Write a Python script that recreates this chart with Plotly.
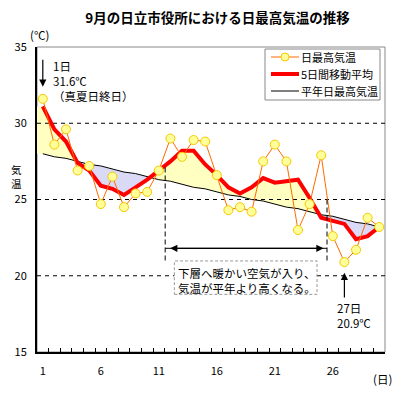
import plotly.graph_objects as go

# ---------------- data ----------------
days = list(range(1, 31))
daily_max = [31.6, 28.6, 29.6, 26.9, 27.2, 24.7, 26.5, 24.5, 25.4, 25.5,
             26.9, 29.0, 27.8, 28.9, 28.8, 26.6, 24.3, 24.5, 24.2, 27.5,
             28.6, 27.5, 23.0, 24.7, 27.9, 22.6, 20.9, 21.7, 23.8, 23.2]
moving_avg = [31.1, 29.6, 28.8, 27.4, 26.9, 25.9, 25.7, 25.3, 25.8, 26.3,
              26.9, 27.5, 28.2, 28.2, 27.3, 26.6, 25.8, 25.4, 25.8, 26.4,
              26.1, 26.2, 26.3, 25.1, 23.8, 23.6, 23.4, 22.4, 22.6, 23.2]
normal_max = [28.0, 27.8, 27.7, 27.5, 27.3, 27.2, 27.0, 26.8, 26.7, 26.5,
              26.3, 26.2, 26.0, 25.8, 25.7, 25.5, 25.3, 25.2, 25.0, 24.9,
              24.7, 24.5, 24.4, 24.2, 24.0, 23.9, 23.7, 23.5, 23.4, 23.2]
x_tick_vals = [1, 6, 11, 16, 21, 26]
x_tick_text = ["1", "6", "11", "16", "21", "26"]
y_tick_vals = [15, 20, 25, 30, 35]
grid_vals = [20, 25, 30]
series_names = ["日最高気温", "5日間移動平均", "平年日最高気温"]

FONT = "Noto Sans CJK JP"
C_DAILY = "#FF6A00"
C_MARK = "#FFFF99"
C_MARK_EDGE = "#F5C800"
C_AVG = "#FF0000"
C_NORM = "#000000"

# ---------------- fill between moving average and normal ----------------
fx = [0.5] + days
fa = [moving_avg[0]] + moving_avg
fb = [normal_max[0]] + normal_max
X, A, B = [], [], []
for i in range(len(fx)):
    X.append(fx[i]); A.append(fa[i]); B.append(fb[i])
    if i + 1 < len(fx):
        d0 = fa[i] - fb[i]
        d1 = fa[i + 1] - fb[i + 1]
        if d0 * d1 < 0:
            t = d0 / (d0 - d1)
            X.append(fx[i] + t * (fx[i + 1] - fx[i]))
            A.append(fa[i] + t * (fa[i + 1] - fa[i]))
            B.append(fb[i] + t * (fb[i + 1] - fb[i]))
upper = [max(a, b) for a, b in zip(A, B)]
lower = [min(a, b) for a, b in zip(A, B)]

fig = go.Figure()
common = dict(mode="lines", line=dict(width=0), showlegend=False, hoverinfo="skip")
fig.add_trace(go.Scatter(x=X, y=B, **common))
fig.add_trace(go.Scatter(x=X, y=upper, fill="tonexty", fillcolor="#FFFFC2", **common))
fig.add_trace(go.Scatter(x=X, y=B, **common))
fig.add_trace(go.Scatter(x=X, y=lower, fill="tonexty", fillcolor="#DADAF6", **common))

# dashed horizontal gridlines (drawn above fills)
for g in grid_vals:
    fig.add_trace(go.Scatter(x=[0.5, 30.5], y=[g, g], mode="lines",
                             line=dict(color="black", width=1, dash="4px,4px"),
                             showlegend=False, hoverinfo="skip"))

fig.add_trace(go.Scatter(x=days, y=normal_max, mode="lines", name=series_names[2],
                         line=dict(color=C_NORM, width=1), showlegend=False))
fig.add_trace(go.Scatter(x=days, y=moving_avg, mode="lines", name=series_names[1],
                         line=dict(color=C_AVG, width=4), showlegend=False))
fig.add_trace(go.Scatter(x=days, y=daily_max, mode="lines+markers", name=series_names[0],
                         line=dict(color=C_DAILY, width=1),
                         marker=dict(size=9, color=C_MARK,
                                     line=dict(color=C_MARK_EDGE, width=1)),
                         showlegend=False))

# ---------------- layout helpers ----------------
# the page puts the figure 8px from the top-left corner of the window
OFF = 8
W = H = 400 - OFF
L, R, T, Bm = 37 - OFF, 15, 47 - OFF, 48
PW = W - L - R
PH = H - T - Bm


def px(x):  # window pixel -> paper x
    return (x - OFF - L) / PW


def py(y):  # window pixel -> paper y
    return (H - Bm - (y - OFF)) / PH


shapes = [
    dict(type="rect", xref="paper", yref="paper", x0=0, x1=1, y0=0, y1=1,
         line=dict(color="#888888", width=1), layer="below"),
    # dashed verticals
    dict(type="line", xref="x", yref="y", x0=11.55, x1=11.55, y0=27.1, y1=20.95,
         line=dict(color="black", width=1, dash="5px,3px")),
    dict(type="line", xref="x", yref="y", x0=25.5, x1=25.5, y0=25.0, y1=20.9,
         line=dict(color="black", width=1, dash="5px,3px")),
    # horizontal arrow shaft
    dict(type="line", xref="x", yref="y", x0=11.55, x1=25.5, y0=21.8, y1=21.8,
         line=dict(color="black", width=1)),
    # dashed text box
    dict(type="rect", xref="x", yref="y", x0=12.34, x1=24.64, y0=18.78, y1=20.97,
         line=dict(color="#999999", width=1, dash="3px,2px"), fillcolor="white"),
]

# ---- legend (drawn by hand to match the compact box) ----
shapes.append(dict(type="rect", xref="paper", yref="paper", x0=px(265), x1=px(380),
                   y0=py(100), y1=py(49), line=dict(color="#888888", width=1),
                   fillcolor="white"))
leg_y = [57, 74, 91]
leg_styles = [dict(color=C_DAILY, width=1), dict(color=C_AVG, width=4),
              dict(color=C_NORM, width=1)]
for yy, st in zip(leg_y, leg_styles):
    shapes.append(dict(type="line", xref="paper", yref="paper", x0=px(271), x1=px(299),
                       y0=py(yy), y1=py(yy), line=st))
shapes.append(dict(type="circle", xref="paper", yref="paper", xsizemode="pixel",
                   ysizemode="pixel", xanchor=px(285), yanchor=py(leg_y[0]),
                   x0=-4, x1=4, y0=-4, y1=4, fillcolor=C_MARK,
                   line=dict(color=C_MARK_EDGE, width=1)))

ann = []
txt = dict(showarrow=False, font=dict(family=FONT, size=11.5, color="black"))
for yy, name in zip(leg_y, series_names):
    ann.append(dict(x=px(299), y=py(yy), xref="paper", yref="paper", xanchor="left",
                    yanchor="middle", text=name, showarrow=False,
                    font=dict(family=FONT, size=11, color="black")))

# day 1 arrow + text
ann.append(dict(x=1, y=32.4, ax=1, ay=34.26, xref="x", yref="y", axref="x", ayref="y",
                text="", showarrow=True, arrowhead=2, arrowsize=1.2, arrowwidth=1.2,
                arrowcolor="black"))
ann.append(dict(x=px(51), y=py(81), xref="paper", yref="paper", xanchor="left",
                yanchor="middle", align="left", text="1日<br>31.6℃<br>（真夏日終日）",
                **txt))
# double arrow
ann.append(dict(x=25.2, y=21.8, ax=11.85, ay=21.8, xref="x", yref="y", axref="x", ayref="y",
                text="", showarrow=True, arrowhead=2, startarrowhead=2, arrowside="end+start",
                arrowsize=1.2, startarrowsize=1.2, arrowwidth=1.2, arrowcolor="black"))
# box text
ann.append(dict(x=px(176), y=py(280.5), xref="paper", yref="paper", xanchor="left",
                yanchor="middle", align="left",
                text="下層へ暖かい空気が入り、<br>気温が平年より高くなる。", **txt))
# day 27 arrow + text
ann.append(dict(x=27, y=20.2, ax=27, ay=18.48, xref="x", yref="y", axref="x", ayref="y",
                text="", showarrow=True, arrowhead=2, arrowsize=1.2, arrowwidth=1.2,
                arrowcolor="black"))
ann.append(dict(x=px(335), y=py(315), xref="paper", yref="paper", xanchor="left",
                yanchor="middle", align="left", text="27日<br>20.9℃", **txt))
# axis unit labels
ann.append(dict(x=px(39), y=py(35), xref="paper", yref="paper", xanchor="center",
                yanchor="middle", text="(℃)", **txt))
ann.append(dict(x=px(382), y=py(379), xref="paper", yref="paper", xanchor="center",
                yanchor="middle", text="(日)", **txt))
ann.append(dict(x=px(8.5), y=py(176), xref="paper", yref="paper", xanchor="left",
                yanchor="middle", text="気<br>温", showarrow=False,
                font=dict(family=FONT, size=10.5, color="black")))

fig.update_layout(
    width=W, height=H,
    margin=dict(l=L, r=R, t=T, b=Bm, autoexpand=False),
    paper_bgcolor="white", plot_bgcolor="white",
    font=dict(family=FONT, size=11, color="black"),
    showlegend=False,
    title=dict(text="9月の日立市役所における日最高気温の推移",
               x=(217.5 - OFF) / W, y=1 - (18 - OFF) / H,
               xanchor="center", yanchor="middle",
               font=dict(family=FONT, size=13.5, color="black", weight="bold")),
    xaxis=dict(range=[0.5, 30.5], tickvals=x_tick_vals, ticktext=x_tick_text, ticks="",
               showgrid=False, zeroline=False, showline=True, linecolor="black",
               linewidth=2, ticklabelstandoff=8, automargin=False,
               minor=dict(tickvals=[d + 0.5 for d in days[:-1]], ticks="inside",
                          ticklen=4, tickcolor="black", tickwidth=1, showgrid=False),
               tickfont=dict(family=FONT, size=11)),
    yaxis=dict(range=[15, 35], tickvals=y_tick_vals, ticks="", showgrid=False,
               zeroline=False, showline=True, linecolor="black", linewidth=2,
               ticklabelstandoff=6, automargin=False,
               tickfont=dict(family=FONT, size=11)),
    shapes=shapes,
    annotations=ann,
    hovermode=False,
)

fig.write_html("out.html")
